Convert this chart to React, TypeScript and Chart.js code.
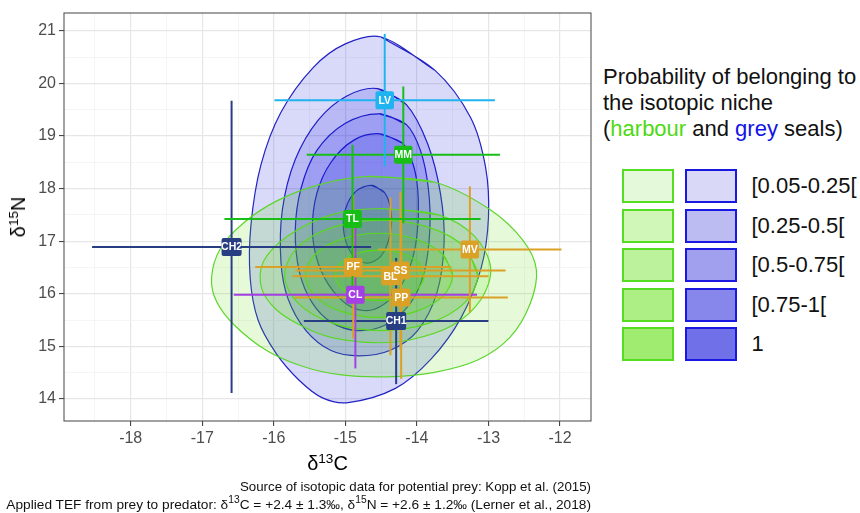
import React, { useEffect, useRef } from 'react';
import { Chart, registerables } from 'chart.js';
Chart.register(...registerables);

const FONT = '"Liberation Sans", Arial, Helvetica, sans-serif';

// axis ranges and ticks
const X_MIN = -18.932;
const X_MAX = -11.567;
const Y_MIN = 13.58;
const Y_MAX = 21.337;
const X_MAJOR = [-18, -17, -16, -15, -14, -13, -12];
const X_MINOR = [-18.5, -17.5, -16.5, -15.5, -14.5, -13.5, -12.5];
const Y_MAJOR = [14, 15, 16, 17, 18, 19, 20, 21];
const Y_MINOR = [14.5, 15.5, 16.5, 17.5, 18.5, 19.5, 20.5];

// potential prey (mean and SD, corrected with TEF)
const preyNames = ['LV', 'MM', 'TL', 'CH2', 'MV', 'PF', 'SS', 'BL', 'CL', 'PP', 'CH1'];
const preyC13 = [-14.45, -14.19, -14.9, -16.59, -13.26, -14.89, -14.23, -14.37, -14.86, -14.22, -14.29];
const preyN15 = [19.68, 18.64, 17.42, 16.89, 16.84, 16.51, 16.44, 16.33, 15.98, 15.93, 15.48];
const preyC13Sd = [1.54, 1.35, 1.79, 1.95, 1.28, 1.37, 1.47, 1.37, 1.7, 1.49, 1.29];
const preyN15Sd = [1.26, 1.3, 1.41, 2.78, 1.2, 1.36, 1.5, 1.5, 1.4, 1.55, 1.2];
const preyColors = ['#1FB3EF', '#16BE16', '#16BE16', '#283E82', '#DBA026', '#DBA026', '#DBA026', '#DBA026', '#A43FE3', '#DBA026', '#283E82'];
const labelDrawOrder = ['LV', 'MM', 'TL', 'CH2', 'MV', 'PF', 'BL', 'SS', 'CL', 'PP', 'CH1'];

// grey seal niche contours (outer -> inner)
const greyContour1 = [
  [-14.5, 20.88], [-13.75, 20.25], [-13.25, 19.35], [-13.04, 18.4], [-13.0, 17.45], [-13.1, 16.5],
  [-13.38, 15.55], [-13.8, 14.76], [-14.3, 14.2], [-14.96, 13.93], [-15.32, 14.02], [-15.65, 14.36],
  [-15.97, 14.87], [-16.22, 15.5], [-16.33, 16.3], [-16.32, 17.3], [-16.18, 18.45], [-15.9, 19.45],
  [-15.45, 20.3], [-15.0, 20.75],
];
const greyContour2 = [
  [-14.55, 19.9], [-14.15, 19.6], [-13.85, 18.85], [-13.67, 17.9], [-13.62, 16.97], [-13.72, 16.02],
  [-13.99, 15.3], [-14.38, 14.92], [-14.81, 14.82], [-15.2, 14.92], [-15.55, 15.3], [-15.8, 15.9],
  [-15.9, 16.6], [-15.88, 17.6], [-15.7, 18.55], [-15.38, 19.3], [-14.98, 19.76],
];
const greyContour3 = [
  [-14.52, 19.42], [-14.15, 19.22], [-13.95, 18.72], [-13.84, 18.0], [-13.82, 17.2], [-13.9, 16.4],
  [-14.1, 15.8], [-14.45, 15.4], [-14.84, 15.3], [-15.2, 15.46], [-15.46, 15.82], [-15.64, 16.4],
  [-15.7, 17.2], [-15.62, 18.0], [-15.4, 18.72], [-15.0, 19.24],
];
const greyContour4 = [
  [-14.52, 19.04], [-14.2, 18.86], [-14.04, 18.4], [-13.98, 17.8], [-14.0, 17.1], [-14.1, 16.5],
  [-14.3, 16.0], [-14.6, 15.7], [-14.89, 15.73], [-15.17, 16.05], [-15.38, 16.58], [-15.46, 17.2],
  [-15.4, 17.9], [-15.2, 18.5], [-14.88, 18.92],
];
const greyContour5 = [
  [-14.63, 18.06], [-14.45, 17.92], [-14.36, 17.55], [-14.38, 17.1], [-14.5, 16.72], [-14.7, 16.58],
  [-14.9, 16.74], [-15.02, 17.15], [-15.0, 17.6], [-14.85, 17.95],
];

// harbour seal niche contours (outer -> inner)
const harbourContour1 = [
  [-14.66, 18.23], [-13.75, 18.12], [-13.0, 17.62], [-12.52, 17.02], [-12.33, 16.45], [-12.42, 15.8],
  [-12.7, 15.17], [-13.15, 14.74], [-13.77, 14.5], [-14.42, 14.42], [-15.08, 14.46], [-15.6, 14.62],
  [-16.1, 14.92], [-16.55, 15.4], [-16.8, 15.85], [-16.87, 16.3], [-16.75, 16.85], [-16.42, 17.35],
  [-15.95, 17.77], [-15.35, 18.08],
];
const harbourContour2 = [
  [-14.5, 17.62], [-13.7, 17.5], [-13.2, 17.1], [-12.97, 16.5], [-13.1, 15.9], [-13.5, 15.4],
  [-14.1, 15.12], [-14.6, 15.07], [-15.2, 15.17], [-15.6, 15.38], [-15.96, 15.69], [-16.17, 16.1],
  [-16.15, 16.6], [-15.8, 17.1], [-15.2, 17.5],
];
const harbourContour3 = [
  [-13.15, 16.35], [-13.33, 16.88], [-13.83, 17.26], [-14.5, 17.4], [-15.18, 17.26], [-15.67, 16.88],
  [-15.85, 16.35], [-15.67, 15.83], [-15.18, 15.44], [-14.5, 15.3], [-13.83, 15.44], [-13.33, 15.83],
];
const harbourContour4 = [
  [-13.5, 16.35], [-13.64, 16.75], [-14.02, 17.04], [-14.53, 17.15], [-15.05, 17.04], [-15.42, 16.75],
  [-15.56, 16.35], [-15.42, 15.95], [-15.05, 15.66], [-14.53, 15.55], [-14.02, 15.66], [-13.64, 15.95],
];
const harbourContour5 = [
  [-13.9, 16.35], [-13.98, 16.59], [-14.21, 16.77], [-14.52, 16.83], [-14.83, 16.77], [-15.06, 16.59],
  [-15.14, 16.35], [-15.06, 16.11], [-14.83, 15.93], [-14.52, 15.87], [-14.21, 15.93], [-13.98, 16.11],
];

const greyContours = [greyContour1, greyContour2, greyContour3, greyContour4, greyContour5];
const harbourContours = [harbourContour1, harbourContour2, harbourContour3, harbourContour4, harbourContour5];

// legend
const legendLabels = ['[0.05-0.25[', '[0.25-0.5[', '[0.5-0.75[', '[0.75-1[', '1'];
const harbourLegendFill = ['#E4F9D9', '#D0F6B8', '#BDF29D', '#ADEF85', '#A0EC71'];
const greyLegendFill = ['#D9D9F7', '#BCBCF3', '#A0A0EF', '#8686EB', '#7070E8'];

const GREY_FILL = 'rgba(10,10,225,0.155)';
const GREY_LINE = '#2222C4';
const HARBOUR_FILL = 'rgba(84,221,0,0.15)';
const HARBOUR_LINE = '#5CD62C';

const loopPoints = (arr: number[][]) => {
  const p = arr.map(([x, y]) => ({ x, y }));
  return [...p, p[0], p[1]];
};

const isMajor = (v: number) => Math.abs(v - Math.round(v)) < 1e-6;

const labelPlugin = {
  id: 'preyLabels',
  afterDatasetsDraw(chart: any) {
    const { ctx, scales } = chart;
    const xs = scales.x;
    const ys = scales.y;
    ctx.save();
    ctx.font = `bold 10.5px ${FONT}`;
    ctx.textAlign = 'center';
    ctx.textBaseline = 'middle';
    const items = labelDrawOrder.map((name) => {
      const i = preyNames.indexOf(name);
      return { name, i, px: xs.getPixelForValue(preyC13[i]), py: ys.getPixelForValue(preyN15[i]) };
    });
    items.forEach(({ name, i, px, py }) => {
      const tw = ctx.measureText(name).width;
      const w = Math.max(18.5, tw - 1);
      const h = 18;
      ctx.fillStyle = preyColors[i];
      ctx.beginPath();
      if (ctx.roundRect) ctx.roundRect(px - w / 2, py - h / 2, w, h, 2);
      else ctx.rect(px - w / 2, py - h / 2, w, h);
      ctx.fill();
    });
    ctx.fillStyle = '#FFFFFF';
    items.forEach(({ name, px, py }) => {
      ctx.fillText(name, px, py + 0.5);
    });
    ctx.restore();
  },
};

const borderPlugin = {
  id: 'panelBorder',
  afterDraw(chart: any) {
    const { ctx, chartArea: a } = chart;
    ctx.save();
    ctx.strokeStyle = '#555555';
    ctx.lineWidth = 1.1;
    ctx.strokeRect(a.left, a.top, a.right - a.left, a.bottom - a.top);
    ctx.restore();
  },
};

function buildConfig(): any {
  const datasets: any[] = [];
  greyContours.forEach((c) => {
    datasets.push({
      data: loopPoints(c), borderColor: GREY_LINE, borderWidth: 1.2, backgroundColor: GREY_FILL,
      fill: 'shape', tension: 0.33, pointRadius: 0, order: 40,
    });
  });
  harbourContours.forEach((c) => {
    datasets.push({
      data: loopPoints(c), borderColor: HARBOUR_LINE, borderWidth: 1.2, backgroundColor: HARBOUR_FILL,
      fill: 'shape', tension: 0.33, pointRadius: 0, order: 30,
    });
  });
  preyNames.forEach((_, i) => {
    const cx = preyC13[i], cy = preyN15[i], sx = preyC13Sd[i], sy = preyN15Sd[i];
    datasets.push({
      data: [{ x: cx - sx, y: cy }, { x: cx + sx, y: cy }], borderColor: preyColors[i], borderWidth: 2,
      fill: false, pointRadius: 0, tension: 0, order: 10,
    });
    datasets.push({
      data: [{ x: cx, y: cy - sy }, { x: cx, y: cy + sy }], borderColor: preyColors[i], borderWidth: 2,
      fill: false, pointRadius: 0, tension: 0, order: 10,
    });
  });

  const gridOpts = {
    color: (c: any) => (c.tick && isMajor(c.tick.value) ? '#E6E6E6' : '#F3F3F3'),
    lineWidth: (c: any) => (c.tick && isMajor(c.tick.value) ? 1.2 : 0.8),
    tickColor: (c: any) => (c.tick && isMajor(c.tick.value) ? '#333333' : 'rgba(0,0,0,0)'),
    tickLength: 5,
    tickWidth: 1,
    drawTicks: true,
  };
  const tickOpts = {
    autoSkip: false, maxRotation: 0, minRotation: 0, padding: 3,
    color: '#4D4D4D', font: { family: FONT, size: 16 },
    callback: (v: any) => (isMajor(Number(v)) ? String(Math.round(Number(v))) : ''),
  };

  return {
    type: 'line',
    data: { datasets },
    options: {
      animation: false,
      responsive: false,
      events: [],
      layout: { padding: { left: 0, right: 9, top: 13, bottom: 0 } },
      plugins: { legend: { display: false }, tooltip: { enabled: false } },
      scales: {
        x: {
          type: 'linear', min: X_MIN, max: X_MAX,
          afterBuildTicks: (s: any) => { s.ticks = [...X_MINOR, ...X_MAJOR].sort((a, b) => a - b).map((value) => ({ value })); },
          afterFit: (s: any) => { s.height = 59; },
          ticks: tickOpts, grid: gridOpts, border: { display: false },
        },
        y: {
          type: 'linear', min: Y_MIN, max: Y_MAX,
          afterBuildTicks: (s: any) => { s.ticks = [...Y_MINOR, ...Y_MAJOR].sort((a, b) => a - b).map((value) => ({ value })); },
          afterFit: (s: any) => { s.width = 64; },
          ticks: tickOpts, grid: gridOpts, border: { display: false },
        },
      },
    },
    plugins: [labelPlugin, borderPlugin],
  };
}

const Sup = ({ t, s = 0.68 }: { t: string; s?: number }) => (
  <span style={{ fontSize: `${s}em`, position: 'relative', top: '-0.55em' }}>{t}</span>
);

export default function App() {
  const ref = useRef<HTMLCanvasElement>(null);
  useEffect(() => {
    const chart = new Chart(ref.current as HTMLCanvasElement, buildConfig());
    return () => chart.destroy();
  }, []);

  return (
    <div style={{ position: 'fixed', left: 0, top: 0, width: 860, height: 513, background: '#FFFFFF', fontFamily: FONT, overflow: 'hidden', color: '#000' }}>
      <canvas ref={ref} width={600} height={480} style={{ position: 'absolute', left: 0, top: 0, width: 600, height: 480 }} />

      <div style={{ position: 'absolute', left: 18, top: 217, transform: 'translate(-50%,-50%) rotate(-90deg)', fontSize: 20, lineHeight: 1, whiteSpace: 'nowrap' }}>
        δ<Sup t="15" />N
      </div>
      <div style={{ position: 'absolute', left: 327.5, top: 463, transform: 'translate(-50%,-50%)', fontSize: 20, lineHeight: 1, whiteSpace: 'nowrap' }}>
        δ<Sup t="13" />C
      </div>

      <div style={{ position: 'absolute', left: 603, top: 64, fontSize: 22, lineHeight: '26px', whiteSpace: 'nowrap', color: '#111' }}>
        Probability of belonging to<br />
        the isotopic niche<br />
        (<span style={{ color: '#4CD910' }}>harbour</span> and <span style={{ color: '#1212E6' }}>grey</span> seals)
      </div>

      {legendLabels.map((lab, i) => (
        <React.Fragment key={lab}>
          <div style={{ position: 'absolute', left: 622, top: 169 + i * 39.6, width: 52, height: 34, boxSizing: 'border-box', border: '2px solid #55DD22', background: harbourLegendFill[i] }} />
          <div style={{ position: 'absolute', left: 684.5, top: 169 + i * 39.6, width: 52, height: 34, boxSizing: 'border-box', border: '2px solid #1818E0', background: greyLegendFill[i] }} />
          <div style={{ position: 'absolute', left: 751.5, top: 169 + i * 39.6 + 17, transform: 'translateY(-50%)', fontSize: 22, lineHeight: 1, whiteSpace: 'nowrap', color: '#111' }}>
            {lab}
          </div>
        </React.Fragment>
      ))}

      <div style={{ position: 'absolute', right: 269, top: 487, transform: 'translateY(-50%)', fontSize: 13.3, lineHeight: 1, whiteSpace: 'nowrap', color: '#111' }}>
        Source of isotopic data for potential prey: Kopp et al. (2015)
      </div>
      <div style={{ position: 'absolute', right: 269, top: 505, transform: 'translateY(-50%)', fontSize: 13.7, lineHeight: 1, whiteSpace: 'nowrap', color: '#111' }}>
        Applied TEF from prey to predator: δ<Sup t="13" s={0.75} />C = +2.4 ± 1.3‰, δ<Sup t="15" s={0.75} />N = +2.6 ± 1.2‰ (Lerner et al., 2018)
      </div>
    </div>
  );
}
